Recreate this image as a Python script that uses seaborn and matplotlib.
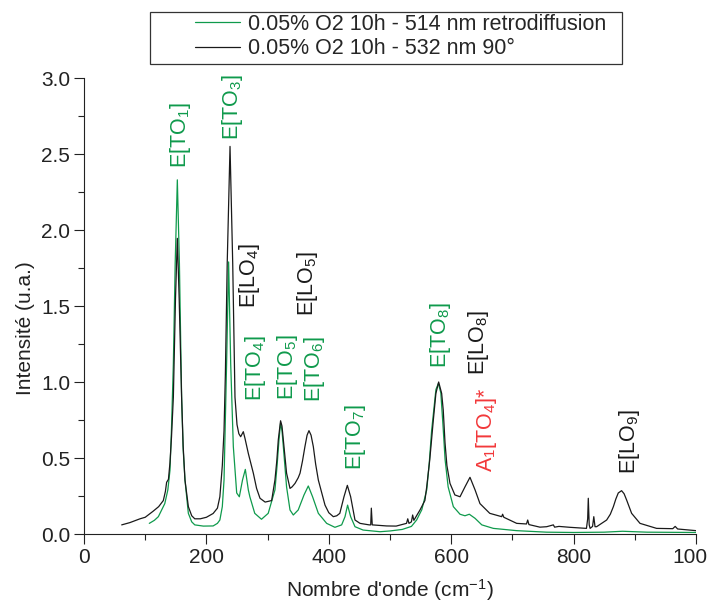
import matplotlib
matplotlib.use("Agg")
import matplotlib.pyplot as plt
from matplotlib.patches import Rectangle
from matplotlib.ticker import MultipleLocator
import seaborn as sns

# spectre 532 nm, geometrie 90 deg (noir)
x_532 = [61.6, 75, 91.5, 100, 113, 122, 129.6, 133, 135, 138, 140.5, 143, 146, 149.5, 152.5,
         155.5, 159.5, 162, 165, 170.5, 176, 181, 190, 200, 211, 218, 222, 226, 228.8, 231, 234,
         238.6, 243, 246.7, 250, 253, 256, 260.3, 263, 268.5, 276.7, 282, 287.6, 296,
         306.6, 312, 315, 317.5, 321.2, 323.5, 325.7, 331, 336.6, 340, 344.8, 350, 353, 357,
         361, 364.5, 367.6, 371, 374.7, 378.5, 382.9, 393.8, 400, 407.4, 413, 418, 424.8, 430.3,
         435.7, 442.8, 451, 466, 468.5, 469.5, 471, 494.5, 510, 527, 529, 531, 535, 537, 539,
         549, 557, 560, 565, 570.8, 575, 579.5, 584.4, 587, 589.9, 593, 598, 606, 614.4, 622.5,
         630.7, 639, 647, 663, 682.5, 684, 686, 707, 723, 725, 727, 745, 756, 766.9, 769, 776,
         794, 821, 823, 824, 825.5, 827, 831, 833, 835, 837.6, 854, 860, 865, 869, 873, 878.4,
         882.5, 886.6, 894.8, 908.5, 935.6, 962, 966, 970, 1000]
y_532 = [0.06, 0.075, 0.10, 0.11, 0.15, 0.18, 0.22, 0.28, 0.34, 0.36, 0.47, 0.64, 0.90, 1.55, 1.945,
         1.55, 0.90, 0.58, 0.355, 0.18, 0.12, 0.10, 0.10, 0.11, 0.135, 0.17, 0.245, 0.45, 0.68, 1.05, 1.78,
         2.55, 1.78, 0.90, 0.72, 0.66, 0.64, 0.673, 0.63, 0.53, 0.40, 0.30, 0.235, 0.21,
         0.22, 0.355, 0.48, 0.62, 0.745, 0.71, 0.62, 0.40, 0.30, 0.31, 0.333, 0.37, 0.40, 0.48,
         0.575, 0.65, 0.68, 0.65, 0.575, 0.46, 0.355, 0.19, 0.14, 0.114, 0.12, 0.136, 0.245, 0.32,
         0.245, 0.092, 0.07, 0.06, 0.06, 0.17, 0.06, 0.053, 0.052, 0.07, 0.10, 0.07, 0.08, 0.125, 0.09,
         0.158, 0.22, 0.31, 0.49, 0.75, 0.925, 1.0, 0.925, 0.815, 0.60, 0.45, 0.333, 0.257, 0.245, 0.31,
         0.373, 0.29, 0.20, 0.136, 0.114, 0.13, 0.11, 0.07, 0.066, 0.092, 0.062, 0.045, 0.048, 0.06, 0.045, 0.05,
         0.044, 0.037, 0.10, 0.235, 0.06, 0.037, 0.05, 0.114, 0.048, 0.048, 0.092, 0.13, 0.18, 0.23, 0.27, 0.285,
         0.265, 0.224, 0.136, 0.07, 0.037, 0.035, 0.05, 0.033, 0.022]

# spectre 514 nm, retrodiffusion (vert)
x_514 = [106.7, 115, 121.5, 132, 137, 140.5, 143, 146, 149, 152.5, 155.9, 159.5, 162, 165, 170.5,
         176, 181, 195, 211, 218, 222, 226, 228.8, 233, 236.3, 239.7, 244, 249.5, 253.8, 259,
         263.6, 268.5, 271, 279, 290, 301, 312, 315.5, 318.6, 321.2, 323.5, 325.7, 331, 336.6,
         342, 350, 359.5, 366.5, 373.5, 382.9, 396.5, 410, 421, 426.5, 430.7, 435.7, 442.8,
         456, 483.7, 500, 520, 535, 543.5, 552, 560, 564, 568, 575, 579, 583, 586.5, 590, 595,
         603.5, 614.4, 622.5, 629.6, 639, 650, 668.8, 707, 756, 800, 850, 880, 920, 1000]
y_514 = [0.07, 0.09, 0.114, 0.20, 0.29, 0.42, 0.70, 1.12, 1.78, 2.33, 1.78, 0.90, 0.56, 0.355, 0.136,
         0.08, 0.06, 0.052, 0.053, 0.07, 0.092, 0.18, 0.355, 1.12, 1.79, 1.12, 0.575, 0.27, 0.245, 0.355,
         0.425, 0.29, 0.245, 0.136, 0.097, 0.136, 0.29, 0.45, 0.62, 0.73, 0.68, 0.575, 0.31, 0.158,
         0.125, 0.158, 0.257, 0.316, 0.245, 0.136, 0.07, 0.044, 0.06, 0.114, 0.19, 0.114, 0.048,
         0.026, 0.015, 0.02, 0.03, 0.05, 0.092, 0.16, 0.29, 0.46, 0.68, 0.95, 0.99, 0.93, 0.72, 0.49, 0.31,
         0.18, 0.13, 0.12, 0.13, 0.103, 0.06, 0.037, 0.022, 0.012, 0.01, 0.012, 0.018, 0.012, 0.01]

labels = ["0.05% O2 10h - 514 nm retrodiffusion", "0.05% O2 10h - 532 nm 90°"]

# attributions des pics : texte, x, y, couleur
peak_text = ["E[TO$_\\mathregular{1}$]", "E[TO$_\\mathregular{3}$]", "E[LO$_\\mathregular{4}$]",
             "E[LO$_\\mathregular{5}$]", "E[TO$_\\mathregular{4}$]", "E[TO$_\\mathregular{5}$]",
             "E[TO$_\\mathregular{6}$]", "E[TO$_\\mathregular{7}$]", "E[TO$_\\mathregular{8}$]",
             "E[LO$_\\mathregular{8}$]", "A$_\\mathregular{1}$[TO$_\\mathregular{4}$]*",
             "E[LO$_\\mathregular{9}$]"]
peak_x = [157, 242, 271, 366, 281, 333, 376, 444, 582, 644, 658, 892]
peak_y = [2.625, 2.81, 1.70, 1.645, 1.09, 1.10, 1.085, 0.64, 1.31, 1.26, 0.685, 0.61]
peak_kind = ["g", "g", "k", "k", "g", "g", "g", "g", "g", "k", "r", "k"]

green = "#0f9a4c"
black = "#1a1a1a"
red = "#f2383a"
kind_color = {"g": green, "k": black, "r": red}

sns.set_style("ticks")
plt.rcParams["font.family"] = ["Liberation Sans", "DejaVu Sans"]
plt.rcParams["mathtext.fontset"] = "custom"
plt.rcParams["mathtext.rm"] = "Liberation Sans"
plt.rcParams["mathtext.it"] = "Liberation Sans:italic"
plt.rcParams["axes.unicode_minus"] = False

fig = plt.figure(figsize=(7.07, 6.05), dpi=100)
ax = fig.add_axes([84 / 707, 1 - 534 / 605, 612 / 707, 456 / 605])

sns.lineplot(x=x_514, y=y_514, ax=ax, color=green, lw=0.9, estimator=None, sort=False,
             label=labels[0])
sns.lineplot(x=x_532, y=y_532, ax=ax, color=black, lw=0.9, estimator=None, sort=False,
             label=labels[1])

for t, px, py, k in zip(peak_text, peak_x, peak_y, peak_kind):
    ax.text(px, py, t, rotation=90, ha="center", va="center", fontsize=15.5,
            color=kind_color[k])

ax.set_xlim(0, 1000)
ax.set_ylim(0, 3.0)
ax.xaxis.set_major_locator(MultipleLocator(200))
ax.xaxis.set_minor_locator(MultipleLocator(100))
ax.yaxis.set_major_locator(MultipleLocator(0.5))
ax.yaxis.set_minor_locator(MultipleLocator(0.25))
ax.yaxis.set_major_formatter(matplotlib.ticker.FormatStrFormatter("%.1f"))
ax.tick_params(which="major", direction="out", length=7, width=0.8, labelsize=15,
               pad=3, colors="#222222")
ax.tick_params(which="minor", direction="out", length=4, width=0.8, colors="#222222")
sns.despine(ax=ax)
for s in ["left", "bottom"]:
    ax.spines[s].set_linewidth(0.8)
    ax.spines[s].set_color("#222222")

ax.set_xlabel("Nombre d'onde (cm$^\\mathregular{-1}$)", fontsize=15, color="#222222")
ax.set_ylabel("Intensité (u.a.)", fontsize=15, color="#222222")
ax.xaxis.set_label_coords(0.5, -0.095)
ax.yaxis.set_label_coords(-0.08, 0.452)

ax.get_legend().remove()
h, l = ax.get_legend_handles_labels()
fig.legend(h, l, loc="upper left", bbox_to_anchor=(195 / 707, 1 - 14 / 605),
           frameon=False, fontsize=15.5, handlelength=2.1, handletextpad=0.35,
           labelspacing=0.15, borderpad=0, borderaxespad=0)
fig.add_artist(Rectangle((150 / 707, 1 - 64 / 605), 472 / 707, 52 / 605,
                         transform=fig.transFigure, fill=False, lw=0.9, ec="#333333"))

fig.savefig("out.png", dpi=100)
